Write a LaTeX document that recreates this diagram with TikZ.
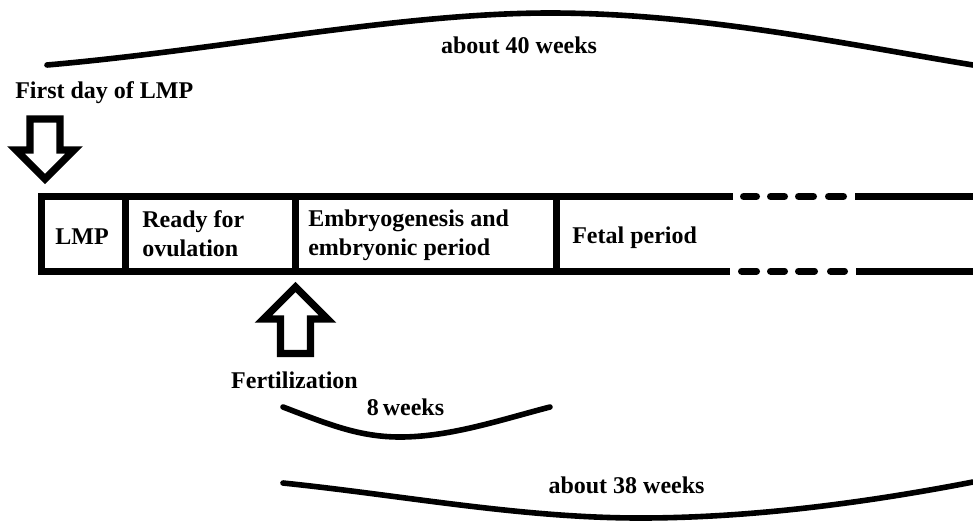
\documentclass[tikz,border=0pt]{standalone}
\usepackage{fontspec}
\setmainfont{Liberation Serif}
\begin{document}
\begin{tikzpicture}[x=0.75pt,y=-0.75pt,
  lbl/.style={font=\bfseries\fontsize{18}{21.75}\selectfont, inner sep=0pt},
  boxline/.style={line width=5.25pt},
  dashseg/.style={line width=5.25pt, line cap=round},
  brace/.style={line width=4.2pt, line cap=round},
  bigarrow/.style={line width=5.5pt, line join=miter, fill=white}]
\useasboundingbox (0,0) rectangle (973,521);

% top span
\draw[brace] (47,65) .. controls (220,50) and (400,13) .. (550,13)
  .. controls (700,13) and (850,45) .. (973,65);
\node[lbl, anchor=base] (t40) at (519,53) {about 40 weeks};

% LMP label and arrow
\node[lbl, anchor=base west] (first) at (15,98) {First day of LMP};
\draw[bigarrow] (30,119) -- (60,119) -- (60,150) -- (74,150) -- (45,179)
  -- (16,150) -- (30,150) -- cycle;

% timeline bar
\draw[boxline, line join=miter] (733,196.5) -- (41,196.5) -- (41,271) -- (730,271);
\draw[boxline] (855,196.5) -- (973,196.5);
\draw[boxline] (856,271) -- (973,271);
\foreach \a/\b in {743.5/756.5, 770.5/784.5, 798.5/813.5, 828.5/843.5}
  \draw[dashseg] (\a,196.5) -- (\b,196.5);
\foreach \a/\b in {741.5/756.5, 770.5/784.5, 798.5/814.5, 830.5/844.5}
  \draw[dashseg] (\a,271) -- (\b,271);
\foreach \x in {125,295,556}
  \draw[boxline] (\x,196.5) -- (\x,271);

\node[lbl, anchor=base] (lmp) at (82,244) {LMP};
\node[lbl, anchor=base west, align=left] (ready) at (142,256) {Ready for\\ovulation};
\node[lbl, anchor=base west, align=left] (embryo) at (308,255) {Embryogenesis and\\embryonic period};
\node[lbl, anchor=base west] (fetal) at (572,243) {Fetal period};

% fertilization arrow
\draw[bigarrow] (280.5,353.5) -- (310.5,353.5) -- (310.5,319) -- (327.5,319)
  -- (295.5,287) -- (263.5,319) -- (280.5,319) -- cycle;
\node[lbl, anchor=base] (fert) at (294.5,388) {Fertilization};

% 8 weeks span
\draw[brace] (283,407) .. controls (330,425) and (360,437) .. (400,437)
  .. controls (450,437) and (500,420) .. (550,407);
\node[lbl, anchor=base] (w8) at (405.5,415) {8\,weeks};

% about 38 weeks span
\draw[brace] (283,483) .. controls (400,495) and (520,518) .. (640,518)
  .. controls (760,518) and (880,500) .. (973,482);
\node[lbl, anchor=base] (w38) at (626.5,493) {about 38 weeks};
\end{tikzpicture}
\end{document}
